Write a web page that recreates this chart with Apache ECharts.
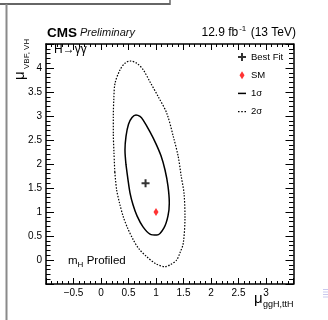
<!DOCTYPE html>
<html>
<head>
<meta charset="utf-8">
<script src="https://cdn.jsdelivr.net/npm/echarts@6/dist/echarts.min.js"></script>
<style>
  html, body { margin: 0; padding: 0; background: #fff; }
  #chart { width: 328px; height: 320px; }
</style>
</head>
<body>
<div id="chart"></div>
<script>
// Likelihood scan of mu(VBF,VH) vs mu(ggH,ttH), H->gamma gamma
const xRange = [-1, 3.5];
const yRange = [-0.5, 4.5];
const tickStep = 0.5;

// 68% CL contour (closed loop)
const contour1s = [
  [0.455, 1.98], [0.436, 2.29], [0.455, 2.58], [0.5, 2.83], [0.564, 2.97],
  [0.636, 3.02], [0.709, 2.99], [0.764, 2.92], [0.891, 2.67], [1.0, 2.42],
  [1.091, 2.17], [1.164, 1.875], [1.218, 1.54], [1.242, 1.19], [1.218, 0.92],
  [1.145, 0.67], [1.018, 0.52], [0.891, 0.54], [0.764, 0.69], [0.655, 0.92],
  [0.582, 1.15], [0.527, 1.40], [0.491, 1.67], [0.455, 1.98]
];

// 95% CL contour (closed loop)
const contour2s = [
  [0.251, 1.83], [0.236, 2.23], [0.224, 2.65], [0.224, 2.99], [0.233, 3.35],
  [0.255, 3.68], [0.345, 3.96], [0.436, 4.10], [0.527, 4.146], [0.649, 4.10],
  [0.769, 3.96], [0.891, 3.71], [1.042, 3.40], [1.195, 3.06], [1.315, 2.57],
  [1.405, 2.15], [1.455, 1.77], [1.509, 1.39], [1.527, 0.90], [1.496, 0.35],
  [1.436, 0.15], [1.376, 0.0], [1.273, -0.09], [1.164, -0.14], [1.0, -0.08],
  [0.831, 0.07], [0.691, 0.23], [0.587, 0.42], [0.482, 0.67], [0.405, 0.90],
  [0.336, 1.19], [0.285, 1.46], [0.251, 1.83]
];

const bestFit = [[0.81, 1.6]];
const smPoint = [[1.0, 1.0]];

const legendNames = ['Best Fit', 'SM', '1σ', '2σ'];

const FONT = '"Liberation Sans", Arial, Helvetica, sans-serif';
const plusPath = 'path://M3,0H5V3H8V5H5V8H3V5H0V3H3Z';
const solidIcon = 'path://M0,0H8V1.5H0Z';
const dottedIcon = 'path://M0,0H1.4V1.3H0ZM3,0H4.4V1.3H3ZM6,0H7.4V1.3H6Z';
const smIcon = 'path://M2.5,0L5,4L2.5,8L0,4Z';

function axisCommon(pos, showLabels, range, majorLen, minorLen) {
  return {
    type: 'value',
    position: pos,
    min: range[0],
    max: range[1],
    interval: tickStep,
    axisLine: { show: true, onZero: false, lineStyle: { color: '#000', width: 1.5 } },
    axisTick: { show: true, inside: true, length: majorLen, lineStyle: { color: '#000', width: 1 } },
    minorTick: { show: true, splitNumber: 5, length: minorLen, lineStyle: { color: '#000', width: 1 } },
    splitLine: { show: false },
    minorSplitLine: { show: false },
    axisLabel: {
      show: showLabels,
      showMinLabel: false,
      showMaxLabel: false,
      color: '#000',
      fontFamily: FONT,
      fontSize: 10,
      margin: 4,
      formatter: v => (v < 0 ? '\u2212' + Math.abs(v) : String(v))
    }
  };
}

const chart = echarts.init(document.getElementById('chart'), null, { renderer: 'canvas' });

chart.setOption({
  backgroundColor: '#fff',
  animation: false,
  grid: { left: 46, top: 44, width: 247.5, height: 240, containLabel: false },
  xAxis: [
    axisCommon('bottom', true, xRange, 6, 3),
    axisCommon('top', false, xRange, 6, 3)
  ],
  yAxis: [
    axisCommon('left', true, yRange, 8, 4.5),
    axisCommon('right', false, yRange, 8, 4.5)
  ],
  legend: {
    data: [
      { name: legendNames[0], icon: plusPath },
      { name: legendNames[1], icon: smIcon },
      { name: legendNames[2], icon: solidIcon },
      { name: legendNames[3], icon: dottedIcon }
    ],
    orient: 'vertical',
    left: 238,
    top: 52,
    itemWidth: 8,
    itemHeight: 8,
    itemGap: 8.2,
    padding: 0,
    textStyle: { fontFamily: FONT, fontSize: 9.5, color: '#000' }
  },
  series: [
    {
      name: '2σ',
      type: 'line',
      data: contour2s,
      smooth: 0.3,
      symbol: 'none',
      lineStyle: { color: '#000', width: 1.2, type: [1.5, 1.5] },
      itemStyle: { color: '#000' },
      z: 2
    },
    {
      name: '1σ',
      type: 'line',
      data: contour1s,
      smooth: 0.3,
      symbol: 'none',
      lineStyle: { color: '#000', width: 1.5 },
      itemStyle: { color: '#000' },
      z: 3
    },
    {
      name: 'Best Fit',
      type: 'scatter',
      data: bestFit,
      symbol: plusPath,
      symbolSize: 8,
      itemStyle: { color: '#000' },
      z: 5
    },
    {
      name: 'SM',
      type: 'scatter',
      data: smPoint,
      symbol: 'diamond',
      symbolSize: [5, 8],
      itemStyle: { color: '#ff0000' },
      z: 5
    }
  ],
  graphic: [
    // outer page border
    { type: 'line', z: 100, shape: { x1: 0, y1: 4, x2: 170, y2: 4 }, style: { stroke: '#666', lineWidth: 2 } },
    { type: 'line', z: 100, shape: { x1: 170, y1: 0, x2: 170, y2: 5 }, style: { stroke: '#666', lineWidth: 1.5 } },
    { type: 'line', z: 100, shape: { x1: 6.5, y1: 4, x2: 6.5, y2: 320 }, style: { stroke: '#8a8a8a', lineWidth: 2 } },
    // small side marker
    { type: 'rect', z: 100, shape: { x: 323, y: 289, width: 5, height: 1 }, style: { fill: '#c9c9ee' } },
    { type: 'rect', z: 100, shape: { x: 323, y: 291.5, width: 5, height: 1 }, style: { fill: '#c9c9ee' } },
    { type: 'rect', z: 100, shape: { x: 323, y: 294, width: 5, height: 1 }, style: { fill: '#c9c9ee' } },
    { type: 'rect', z: 100, shape: { x: 323, y: 296.5, width: 5, height: 1 }, style: { fill: '#c9c9ee' } },
    // header
    { type: 'text', z: 100, style: { text: 'CMS', x: 47, y: 33, font: 'bold 13.5px ' + FONT, fill: '#000', textVerticalAlign: 'middle' } },
    { type: 'text', z: 100, style: { text: 'Preliminary', x: 80, y: 33, font: 'italic 11px ' + FONT, fill: '#111', textVerticalAlign: 'middle' } },
    {
      type: 'text',
      z: 100,
      style: {
        text: '12.9 fb{sup|-1} (13 TeV)',
        x: 296, y: 33,
        font: '12px ' + FONT,
        fill: '#000',
        textAlign: 'right',
        textVerticalAlign: 'middle',
        rich: { sup: { fontSize: 8, fontFamily: FONT, padding: [0, 1, 8, 1] } }
      }
    },
    // in-plot labels
    { type: 'text', z: 100, style: { text: 'H\u2192\u03b3\u03b3', x: 54, y: 43.5, font: '12px ' + FONT, fill: '#000', textVerticalAlign: 'top' } },
    {
      type: 'text',
      z: 100,
      style: {
        text: '{m|m}{s|H} {p|Profiled}',
        x: 68, y: 261,
        fill: '#000',
        textVerticalAlign: 'middle',
        rich: {
          m: { fontSize: 11.5, fontFamily: FONT },
          s: { fontSize: 8, fontFamily: FONT, padding: [7, 0, 0, 0] },
          p: { fontSize: 11.5, fontFamily: FONT }
        }
      }
    },
    // axis titles
    { type: 'text', z: 100, style: { text: '\u03bc', x: 254, y: 299, font: '15px ' + FONT, fill: '#000', textVerticalAlign: 'middle' } },
    { type: 'text', z: 100, style: { text: 'ggH,ttH', x: 263, y: 305, font: '9px ' + FONT, fill: '#000', textVerticalAlign: 'middle' } },
    { type: 'text', z: 100, x: 20, y: 80, rotation: Math.PI / 2, style: { text: '\u03bc', x: 0, y: 0, font: '15px ' + FONT, fill: '#000', textVerticalAlign: 'middle' } },
    { type: 'text', z: 100, x: 27, y: 69, rotation: Math.PI / 2, style: { text: 'VBF, VH', x: 0, y: 0, font: '8px ' + FONT, fill: '#000', textVerticalAlign: 'middle' } }
  ]
});
</script>
</body>
</html>
